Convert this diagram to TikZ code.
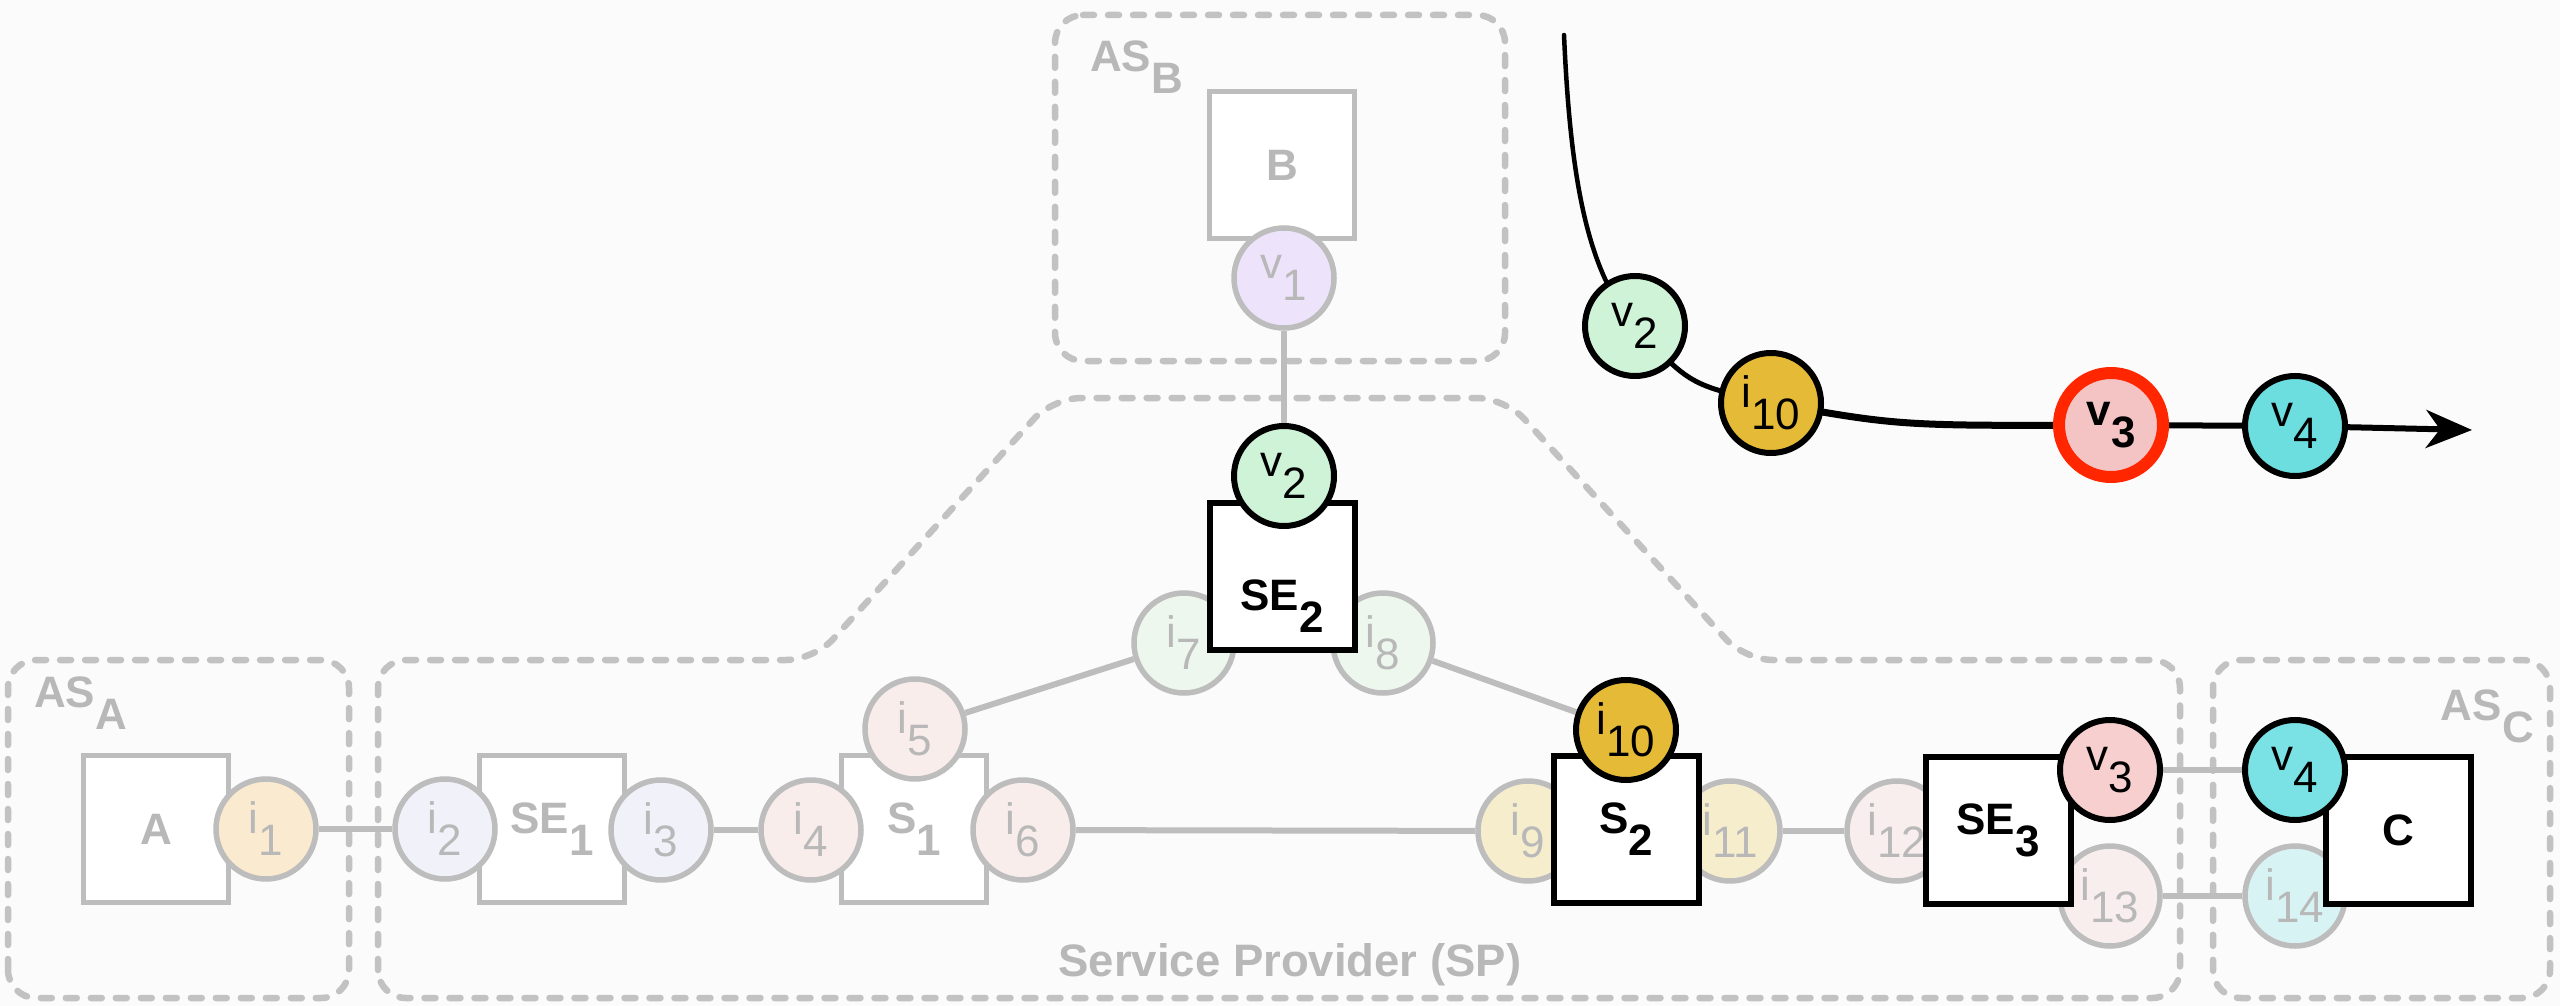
\documentclass[tikz,border=0pt]{standalone}
\usepackage{fontspec}
\setmainfont{Liberation Sans}
\usetikzlibrary{arrows.meta}
\pgfdeclarelayer{bglayer}
\pgfdeclarelayer{linelayer}
\pgfsetlayers{bglayer,linelayer,main}
\definecolor{bgc}{HTML}{FBFBFB}
\definecolor{dashc}{HTML}{C2C2C2}
\definecolor{grayc}{HTML}{BDBDBD}
\definecolor{graytxt}{HTML}{B8B8B8}
\definecolor{fi1}{HTML}{FAEACF}
\definecolor{fi2}{HTML}{F1F2F9}
\definecolor{fi4}{HTML}{F8EDEA}
\definecolor{fi7}{HTML}{EDF7EE}
\definecolor{fi9}{HTML}{F6EDCD}
\definecolor{fi12}{HTML}{F9EEEE}
\definecolor{fi14}{HTML}{D8F3F4}
\definecolor{fv1}{HTML}{EDE4FB}
\definecolor{cv2}{HTML}{CFF3D6}
\definecolor{ci10}{HTML}{E4BA37}
\definecolor{cv3}{HTML}{F6CFCE}
\definecolor{cv3t}{HTML}{F3C4C3}
\definecolor{cv4}{HTML}{7AE2E5}
\definecolor{cv4t}{HTML}{6DDEDF}
\definecolor{redc}{HTML}{FF2600}
\newcommand\sublab[2]{#1\raisebox{-22pt}{#2}}
\begin{document}
\begin{tikzpicture}[x=1pt,y=-1pt,
  region/.style={draw=dashc, line width=6.5pt, dash pattern=on 11pt off 14pt, line cap=round, rounded corners=28pt},
  gline/.style={draw=grayc, line width=6pt},
  circ/.style={circle, minimum size=100pt, inner sep=0pt, font=\fontsize{44}{44}\selectfont},
  fadedc/.style={circ, draw=grayc, line width=5.5pt, text=graytxt},
  strongc/.style={circ, draw=black, line width=6pt, text=black},
  boxbase/.style={rectangle, minimum width=145pt, minimum height=147pt, inner sep=0pt, fill=white, font=\bfseries\fontsize{44}{44}\selectfont},
  fadedbox/.style={boxbase, draw=grayc, line width=5.5pt, text=graytxt},
  strongbox/.style={boxbase, draw=black, line width=6pt, text=black},
  astext/.style={font=\bfseries\fontsize{44}{44}\selectfont, text=graytxt, inner sep=0pt},
]
\begin{pgfonlayer}{bglayer}
\fill[bgc] (0,0) rectangle (2560,1006);
\useasboundingbox (0,0) rectangle (2560,1006);
% regions
\draw[region] (8,998) -- (8,660) -- (349,660) -- (349,998) -- cycle;
\draw[region] (378,998) -- (378,660) -- (814,660) -- (1053,398) -- (1505,398) -- (1745,660) -- (2180,660) -- (2180,998) -- cycle;
\draw[region] (1055,15) -- (1505,15) -- (1505,361) -- (1055,361) -- cycle;
\draw[region] (2213,660) -- (2550,660) -- (2550,998) -- (2213,998) -- cycle;
\end{pgfonlayer}

\node[astext, anchor=base west] (asa) at (34,707) {\sublab{AS}{A}};
\node[astext, anchor=base west] (asb) at (1090,72) {\sublab{AS}{B}};
\node[astext, anchor=base east] (asc) at (2534,720) {\sublab{AS}{C}};
\node[astext, font=\bfseries\fontsize{45.5}{45.5}\selectfont, anchor=base] (sp) at (1290,976) {Service Provider (SP)};

% faded circles behind boxes
\node[fadedc, fill=fi7] (i7) at (1184,643) {\sublab{i}{7}};
\node[fadedc, fill=fi7] (i8) at (1383,643) {\sublab{i}{8}};
\node[fadedc, fill=fi9] (i9) at (1528,831) {\sublab{i}{9}};
\node[fadedc, fill=fi9] (i11) at (1730,831) {\sublab{i}{11}};
\node[fadedc, fill=fi12] (i12) at (1897,831) {\sublab{i}{12}};
\node[fadedc, fill=fi12] (i13) at (2110,896) {\sublab{i}{13}};
\node[fadedc, fill=fi14] (i14) at (2295,896) {\sublab{i}{14}};

% boxes
\node[fadedbox] (A) at (156,829) {A};
\node[fadedbox] (SE1) at (552,829) {\sublab{SE}{1}};
\node[fadedbox] (S1) at (914,829) {\sublab{S}{1}};
\node[fadedbox] (B) at (1282,165) {B};
\node[strongbox] (SE2) at (1282,576) {};
\node[font=\bfseries\fontsize{44}{44}\selectfont, inner sep=0pt] (SE2lab) at (1282,606) {\sublab{SE}{2}};
\node[strongbox] (S2) at (1626,829) {\sublab{S}{2}};
\node[strongbox] (SE3) at (1998,830) {\sublab{SE}{3}};
\node[strongbox] (C) at (2398,830) {C};

% circles on top
\node[fadedc, fill=fi1] (i1) at (266,829) {\sublab{i}{1}};
\node[fadedc, fill=fi2] (i2) at (445,829) {\sublab{i}{2}};
\node[fadedc, fill=fi2] (i3) at (661,830) {\sublab{i}{3}};
\node[fadedc, fill=fi4] (i4) at (811,830) {\sublab{i}{4}};
\node[fadedc, fill=fi4] (i5) at (915,729) {\sublab{i}{5}};
\node[fadedc, fill=fi4] (i6) at (1023,830) {\sublab{i}{6}};
\node[fadedc, fill=fv1] (v1) at (1284,278) {\sublab{v}{1}};
\node[strongc, fill=cv2] (v2) at (1284,476) {\sublab{v}{2}};
\node[strongc, fill=ci10] (i10) at (1626,730) {\sublab{i}{10}};
\node[strongc, fill=cv3] (v3) at (2110,770) {\sublab{v}{3}};
\node[strongc, fill=cv4] (v4) at (2295,770) {\sublab{v}{4}};

% top path
\coordinate (tstart) at (1564,35);
\coordinate (tend) at (2472,430);
\node[strongc, fill=cv2] (tv2) at (1635,326) {\sublab{v}{2}};
\node[strongc, fill=ci10] (ti10) at (1771,403) {\sublab{i}{10}};
\node[circ, draw=redc, line width=12pt, minimum size=104pt, fill=cv3t, font=\bfseries\fontsize{44}{44}\selectfont] (tv3) at (2111,425) {\sublab{v}{3}};
\node[strongc, fill=cv4t] (tv4) at (2295,426) {\sublab{v}{4}};

\begin{pgfonlayer}{linelayer}
\draw[gline] (i1) -- (i2);
\draw[gline] (i3) -- (i4);
\draw[gline] (i5) -- (i7);
\draw[gline] (i8) -- (i10);
\draw[gline] (i6) -- (i9);
\draw[gline] (i11) -- (i12);
\draw[gline] (v3) -- (v4);
\draw[gline] (i13) -- (i14);
\draw[gline] (v1) -- (v2);
\draw[line width=4.5pt, line cap=round] (tstart) .. controls (1570,170) and (1585,270) .. (tv2.center);
\draw[line width=5pt] (tv2.center) .. controls (1690,385) .. (ti10.center);
\draw[line width=7pt] (ti10.center) .. controls (1900,426) .. (tv3.center);
\draw[line width=6pt] (tv3.center) -- (tv4.center);
\draw[line width=6pt, -{Stealth[length=46pt, width=38pt, inset=14pt]}] (tv4.center) -- (tend);
\end{pgfonlayer}
\end{tikzpicture}
\end{document}
